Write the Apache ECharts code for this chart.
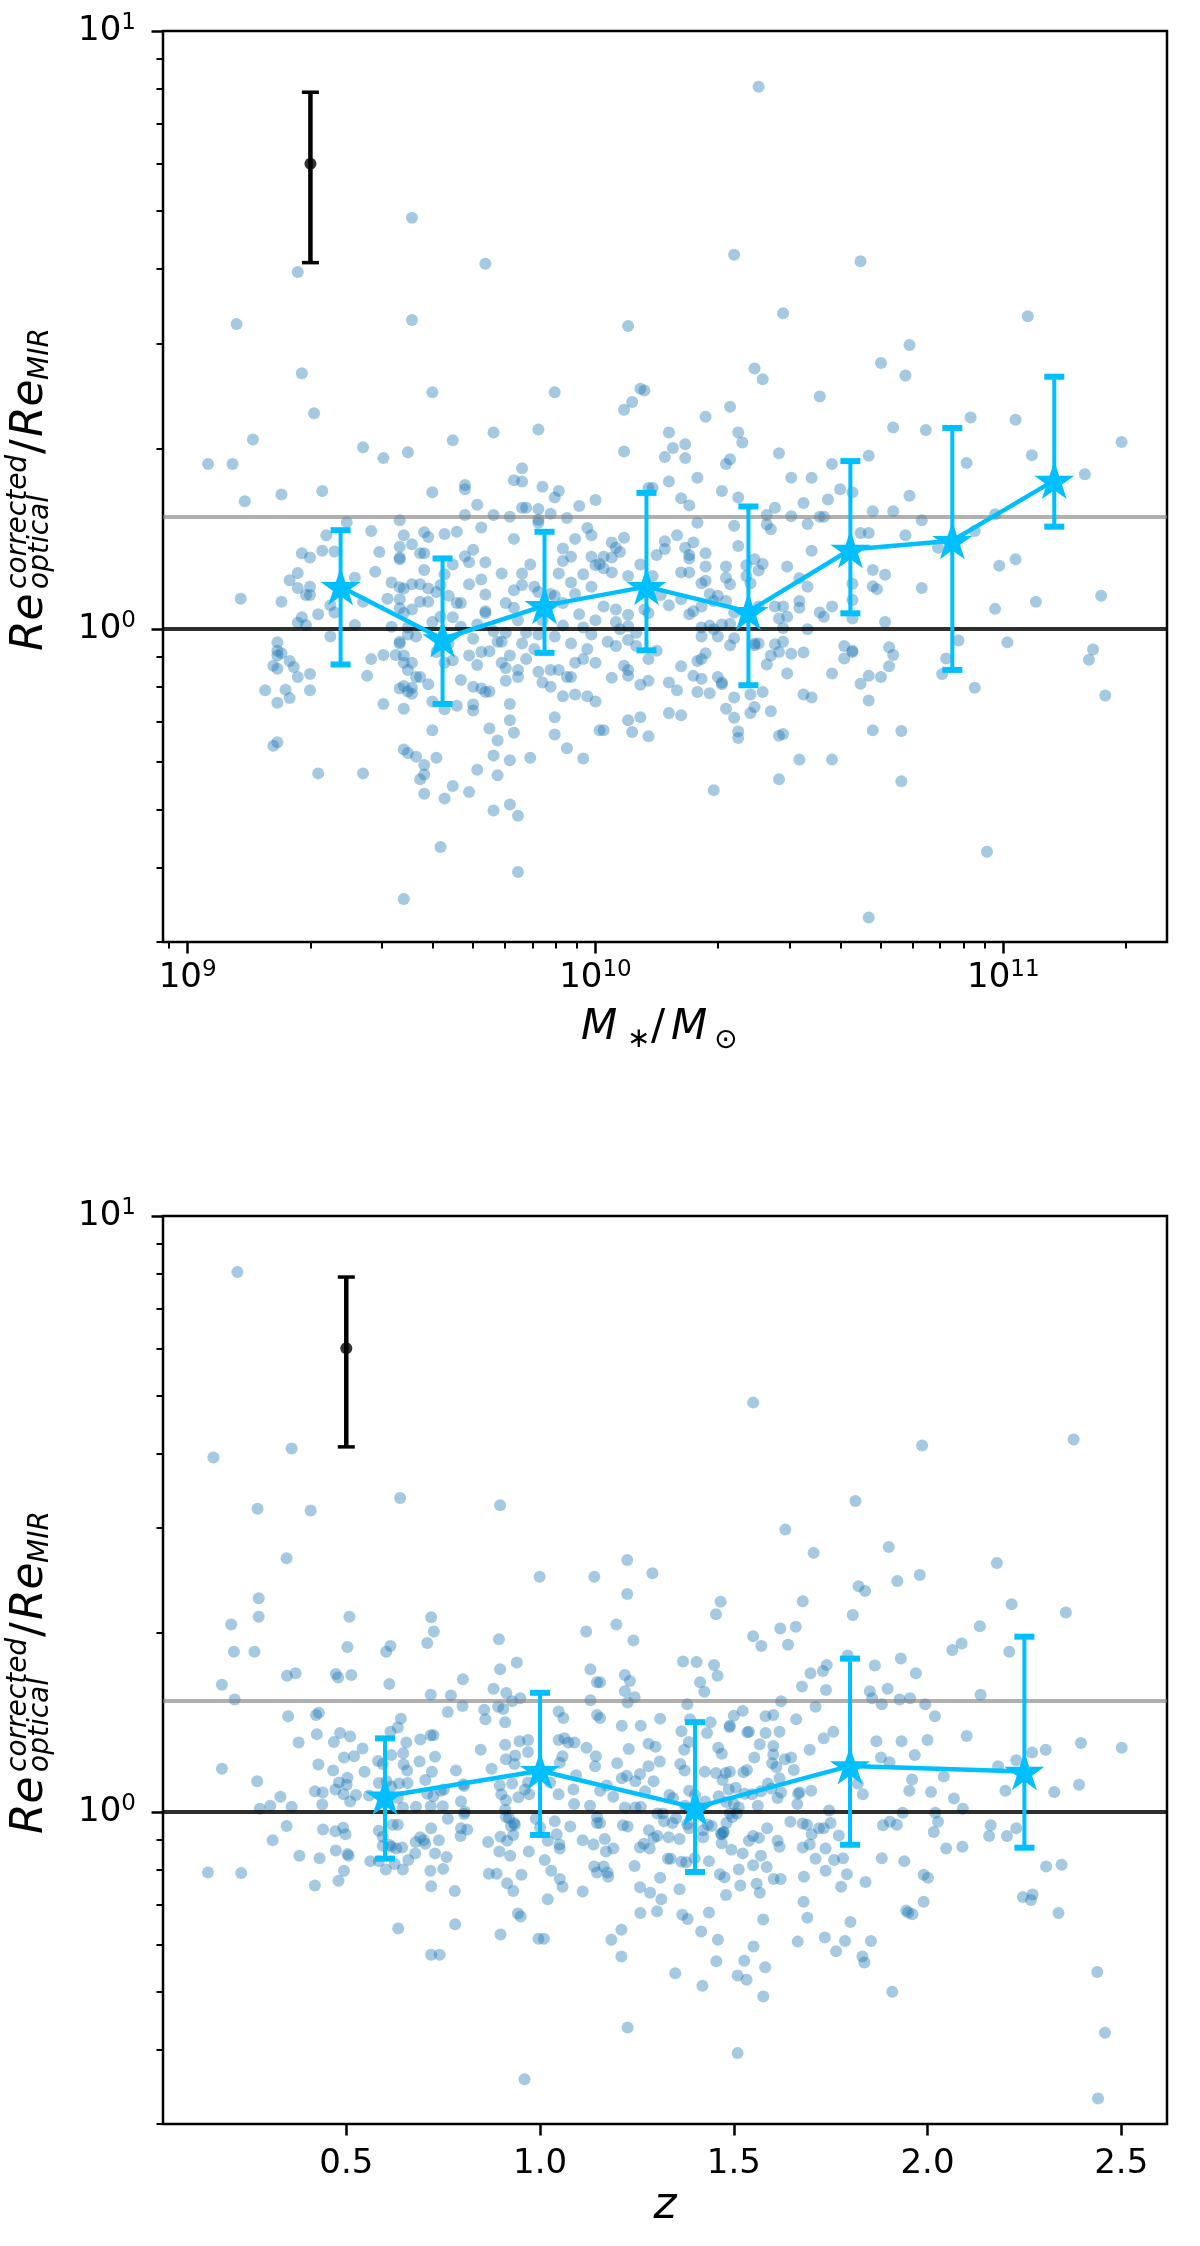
<!DOCTYPE html>
<html>
<head>
<meta charset="utf-8">
<script src="https://cdn.jsdelivr.net/npm/echarts@6/dist/echarts.min.js"></script>
<style>
  html, body { margin: 0; padding: 0; background: #fff; }
  #chart { width: 1200px; height: 2246px; }
</style>
</head>
<body>
<div id="chart"></div>
<script>
// ---- binned medians (stars) with 1-sigma bars, upper panel: stellar mass ----
var massBinLog = [9.375, 9.625, 9.875, 10.125, 10.375, 10.625, 10.875, 11.125];
var massMedian = [1.178, 0.963, 1.095, 1.178, 1.070, 1.359, 1.406, 1.773];
var massUpper  = [1.464, 1.313, 1.455, 1.690, 1.604, 1.910, 2.170, 2.643];
var massLower  = [0.873, 0.750, 0.913, 0.922, 0.806, 1.063, 0.855, 1.484];

// ---- lower panel: redshift ----
var zBins   = [0.6, 1.0, 1.4, 1.8, 2.25];
var zMedian = [1.064, 1.174, 1.018, 1.196, 1.170];
var zUpper  = [1.330, 1.586, 1.416, 1.810, 1.970];
var zLower  = [0.836, 0.916, 0.794, 0.882, 0.872];

// typical error bar drawn in the corner
var refMass = 2e9, refZ = 0.5, refValue = 6.0, refErr = 1.9;
var unityLevel = 1.0, greyLevel = 1.54;

// axis ranges and ticks
var massRange = [8.7e8, 2.52e11];
var ratioRange = [0.3, 10];
var zRange = [0.027, 2.618];
var massMajor = [1e9, 1e10, 1e11];
var massMinor = [9e8, 2e9, 3e9, 4e9, 5e9, 6e9, 7e9, 8e9, 9e9, 2e10, 3e10, 4e10, 5e10, 6e10, 7e10, 8e10, 9e10, 2e11];
var ratioMajor = [1, 10];
var ratioMinor = [0.3, 0.4, 0.5, 0.6, 0.7, 0.8, 0.9, 2, 3, 4, 5, 6, 7, 8, 9];
var zTicks = [0.5, 1.0, 1.5, 2.0, 2.5];

// galaxies, upper panel: [log10(M*/Msun), log10(Re ratio)]
var massPanelPoints = [
[9.55,0.688],[9.27,0.597],[9.73,0.611],[9.12,0.510],[9.55,0.517],[9.28,0.428],[9.60,0.396],[9.90,0.396],[9.31,0.361],[9.16,0.317],[9.43,0.304],[9.65,0.316],[9.75,0.329],[9.86,0.334],
[10.40,0.907],[10.34,0.626],[10.65,0.615],[10.46,0.528],[11.06,0.523],[10.08,0.507],[10.77,0.475],[10.70,0.445],[10.76,0.424],[10.39,0.436],[10.41,0.418],[10.11,0.402],[10.12,0.399],[10.09,0.380],[10.07,0.367],[10.55,0.389],[10.33,0.372],[10.27,0.355],[10.18,0.329],[10.35,0.329],[10.36,0.312],[10.22,0.309],[10.19,0.303],[10.07,0.297],[10.73,0.337],[10.81,0.333],[10.92,0.354],[11.03,0.350],[11.29,0.313],
[9.05,0.276],[9.11,0.276],[9.48,0.286],[9.54,0.296],[9.23,0.225],[9.33,0.231],[9.14,0.214],[9.60,0.229],[9.82,0.269],[9.80,0.249],[9.82,0.247],[9.68,0.234],[9.68,0.241],[9.87,0.238],[9.91,0.231],[9.90,0.220],[9.71,0.208],[9.83,0.203],[9.82,0.203],[9.86,0.201],[9.89,0.193],[9.96,0.206],[10.00,0.216],[9.68,0.191],[9.75,0.191],[9.79,0.188],[9.86,0.183],[9.93,0.186],[9.52,0.182],
[9.39,0.179],[9.34,0.157],[9.45,0.164],[9.53,0.157],[9.55,0.142],[9.58,0.162],[9.59,0.154],[9.63,0.159],[9.66,0.163],[9.72,0.170],[9.86,0.178],[9.95,0.151],[9.99,0.157],[9.98,0.169],[9.80,0.151],[9.28,0.127],[9.30,0.120],[9.33,0.131],[9.36,0.130],[9.47,0.129],[9.52,0.138],[9.52,0.120],[9.52,0.117],[9.57,0.127],[9.58,0.127],[9.68,0.122],[9.70,0.133],[9.69,0.112],[9.73,0.112],[9.92,0.135],[9.94,0.121],[9.92,0.114],[9.99,0.121],
[9.25,0.082],[9.27,0.094],[9.27,0.069],[9.30,0.071],[9.29,0.057],[9.30,0.057],[9.35,0.040],[9.36,0.028],[9.41,0.086],[9.43,0.046],[9.46,0.096],[9.49,0.051],[9.50,0.078],[9.52,0.070],[9.53,0.068],[9.52,0.050],[9.52,0.035],[9.55,0.075],[9.55,0.033],[9.57,0.075],[9.58,0.099],[9.59,0.068],[9.61,0.062],[9.62,0.074],[9.63,0.092],[9.64,0.056],[9.65,0.108],[9.66,0.044],[9.67,0.044],[9.69,0.075],[9.72,0.083],[9.73,0.058],[9.73,0.027],[9.77,0.093],[9.80,0.065],[9.82,0.093],[9.82,0.074],[9.84,0.108],[9.85,0.071],[9.86,0.062],[9.89,0.059],[9.90,0.056],[9.91,0.093],[9.92,0.044],[9.94,0.078],[9.95,0.059],[9.97,0.092],[9.99,0.071],[10.00,0.107],
[9.13,0.051],[9.23,0.046],[9.27,0.011],[9.28,0.020],[9.29,0.007],[9.32,0.025],[9.35,-0.012],[9.41,0.007],
[9.50,0.004],[9.53,0.027],[9.54,0.003],[9.56,-0.012],[9.57,0.046],[9.59,0.046],[9.60,0.012],[9.62,0.021],[9.64,-0.024],[9.65,0.020],[9.67,0.004],[9.70,-0.016],[9.71,0.008],[9.73,0.030],[9.75,-0.003],[9.77,-0.021],[9.78,0.044],[9.78,-0.006],[9.80,0.036],[9.81,0.015],[9.82,-0.024],[9.83,-0.006],[9.86,-0.009],[9.87,0.015],[9.90,-0.012],[9.92,0.006],[9.94,-0.024],[9.96,0.025],[9.97,0.003],[9.99,-0.009],[10.00,0.015],[9.52,-0.024],[9.54,-0.009],
[9.22,-0.022],[9.22,-0.036],[9.22,-0.044],[9.23,-0.040],[9.25,-0.053],[9.26,-0.063],[9.27,-0.080],[9.21,-0.061],[9.22,-0.066],[9.30,-0.075],[9.44,-0.078],[9.45,-0.050],[9.48,-0.043],[9.51,-0.043],[9.52,-0.021],[9.53,-0.044],[9.53,-0.056],[9.54,-0.068],[9.55,-0.056],[9.56,-0.080],[9.57,-0.080],[9.59,-0.092],[9.61,-0.038],[9.63,-0.056],[9.65,-0.052],[9.67,-0.085],[9.69,-0.044],[9.71,-0.060],[9.72,-0.038],[9.74,-0.037],[9.76,-0.021],[9.77,-0.056],[9.78,-0.065],[9.78,-0.086],[9.79,-0.044],[9.81,-0.068],[9.81,-0.080],[9.83,-0.050],[9.85,-0.033],[9.86,-0.071],[9.87,-0.089],[9.89,-0.068],[9.91,-0.068],[9.93,-0.080],[9.95,-0.056],[9.97,-0.050],[9.98,-0.033],[10.00,-0.056],[9.53,-0.095],[9.54,-0.104],[9.55,-0.098],[9.55,-0.108],[9.52,-0.099],[9.70,-0.096],[9.72,-0.099],[9.73,-0.105],[9.74,-0.104],[9.89,-0.096],[9.92,-0.112],[9.94,-0.080],[9.95,-0.109],[9.98,-0.112],
[9.19,-0.102],[9.24,-0.101],[9.25,-0.115],[9.30,-0.102],[9.22,-0.123],[9.48,-0.125],[9.53,-0.133],[9.60,-0.121],[9.63,-0.134],[9.66,-0.128],[9.70,-0.126],[9.70,-0.136],[9.79,-0.125],[10.00,-0.121],
[9.60,-0.169],[9.74,-0.166],[9.76,-0.186],[9.79,-0.152],[9.80,-0.173],[9.90,-0.176],[9.90,-0.147],[9.93,-0.199],[9.97,-0.216],[10.01,-0.169],[9.21,-0.195],[9.22,-0.189],[9.53,-0.201],[9.54,-0.207],[9.56,-0.213],[9.58,-0.227],[9.58,-0.243],[9.57,-0.251],[9.61,-0.215],[9.71,-0.235],[9.75,-0.211],[9.76,-0.244],[9.79,-0.219],[9.84,-0.215],[9.32,-0.241],[9.43,-0.241],[9.58,-0.275],[9.63,-0.283],[9.65,-0.262],[9.69,-0.272],[9.75,-0.303],[9.79,-0.293],[9.81,-0.312],[9.62,-0.364],[9.81,-0.406],[9.53,-0.451],
[10.17,0.288],[10.22,0.286],[10.32,0.276],[10.33,0.284],[10.45,0.294],[10.58,0.276],[10.67,0.290],[10.91,0.278],[11.07,0.291],[11.20,0.259],[10.18,0.247],[10.25,0.253],[10.48,0.253],[10.53,0.253],[10.31,0.231],[10.21,0.219],[10.23,0.207],[10.35,0.220],[10.14,0.236],[10.13,0.236],[10.60,0.234],[10.63,0.229],[10.57,0.217],[10.51,0.211],[10.68,0.197],[10.73,0.197],[10.77,0.223],[10.80,0.182],[10.42,0.191],[10.48,0.189],[10.55,0.188],[10.56,0.188],[10.44,0.203],[10.25,0.178],[10.34,0.173],[10.42,0.175],[10.43,0.167],[10.52,0.176],[10.98,0.192],[10.93,0.164],
[10.07,0.153],[10.04,0.145],[10.05,0.136],[10.06,0.129],[10.02,0.121],[10.04,0.120],[10.01,0.109],[10.02,0.102],[10.04,0.095],[10.08,0.089],[10.11,0.108],[10.14,0.089],[10.16,0.057],[10.18,0.040],[10.15,0.124],[10.17,0.134],[10.17,0.147],[10.20,0.157],[10.22,0.136],[10.23,0.124],[10.23,0.118],[10.24,0.145],[10.27,0.127],[10.27,0.105],[10.26,0.077],[10.27,0.081],[10.21,0.095],[10.23,0.095],[10.32,0.105],[10.32,0.086],[10.33,0.075],[10.35,0.139],[10.37,0.107],[10.37,0.089],[10.38,0.077],[10.39,0.117],[10.40,0.098],[10.41,0.109],[10.47,0.105],[10.50,0.085],[10.52,0.071],[10.53,0.131],[10.63,0.076],[10.65,0.161],[10.67,0.161],[10.68,0.099],[10.71,0.091],[10.68,0.072],[10.69,0.067],[10.76,0.157],[10.80,0.069],[10.84,0.136],[10.99,0.106],[11.03,0.117],[11.24,0.056],[11.08,0.046],[10.98,0.034],
[10.02,0.038],[10.05,0.033],[10.08,0.024],[10.05,0.012],[10.06,0.000],[10.08,0.005],[10.10,-0.006],[10.12,0.033],[10.13,0.027],[10.03,-0.021],[10.05,-0.028],[10.08,-0.018],[10.10,-0.028],[10.21,0.050],[10.23,0.025],[10.24,0.030],[10.26,0.038],[10.28,0.059],[10.30,0.056],[10.29,0.047],[10.32,0.047],[10.34,0.028],[10.26,0.003],[10.28,0.006],[10.29,0.000],[10.31,0.008],[10.33,0.009],[10.30,-0.012],[10.33,-0.027],[10.34,-0.015],[10.26,-0.012],[10.40,0.038],[10.44,0.038],[10.46,0.038],[10.45,0.018],[10.47,0.021],[10.46,0.002],[10.50,0.036],[10.50,0.047],[10.52,0.000],[10.55,0.028],[10.56,0.021],[10.58,0.038],[10.63,0.049],[10.63,0.018],[10.71,0.012],[11.01,-0.022],[10.89,-0.019],[11.22,-0.034],[11.21,-0.051],
[10.07,-0.061],[10.08,-0.068],[10.08,-0.078],[10.04,-0.081],[10.11,-0.093],[10.13,-0.086],[10.13,-0.050],[10.15,-0.036],[10.21,-0.062],[10.18,-0.089],[10.20,-0.102],[10.24,-0.078],[10.25,-0.105],[10.25,-0.053],[10.26,-0.050],[10.27,-0.040],[10.26,-0.083],[10.28,-0.107],[10.30,-0.080],[10.31,-0.089],[10.31,-0.092],[10.34,-0.114],[10.39,-0.024],[10.39,-0.027],[10.40,-0.024],[10.42,-0.059],[10.43,-0.044],[10.44,-0.025],[10.46,-0.021],[10.45,-0.038],[10.48,-0.041],[10.51,-0.039],[10.41,-0.105],[10.38,-0.109],[10.47,-0.074],[10.58,-0.074],[10.61,-0.028],[10.61,-0.049],[10.63,-0.038],[10.63,-0.036],[10.65,-0.091],[10.67,-0.078],[10.70,-0.080],[10.72,-0.062],[10.72,-0.030],[10.73,-0.043],[10.85,-0.075],[10.86,-0.049],[10.93,-0.098],[10.67,-0.119],[11.25,-0.111],[10.51,-0.109],[10.53,-0.114],
[10.02,-0.169],[10.09,-0.172],[10.08,-0.152],[10.11,-0.147],[10.13,-0.179],[10.18,-0.140],[10.21,-0.144],[10.32,-0.133],[10.34,-0.148],[10.35,-0.171],[10.35,-0.182],[10.38,-0.140],[10.39,-0.130],[10.43,-0.137],[10.45,-0.178],[10.46,-0.175],[10.50,-0.218],[10.58,-0.218],[10.68,-0.169],[10.75,-0.170],[10.45,-0.251],[10.75,-0.254],[10.29,-0.269],[10.96,-0.372],[10.67,-0.482]
];

// galaxies, lower panel: [z, log10(Re ratio)]
var zPanelPoints = [
[0.219,0.906],[0.157,0.595],[0.359,0.610],[0.639,0.527],[0.897,0.515],[0.271,0.509],[0.408,0.506],[0.346,0.426],[0.999,0.395],[1.140,0.395],[0.274,0.359],[0.274,0.328],[0.203,0.315],[0.508,0.328],[0.719,0.327],[0.726,0.303],[1.119,0.303],[0.210,0.269],[0.263,0.269],[0.503,0.277],[0.614,0.279],[0.603,0.269],[0.709,0.284],[0.894,0.290],
[1.550,0.687],[1.986,0.615],[2.377,0.625],[1.814,0.522],[1.633,0.474],[1.706,0.435],[1.900,0.445],[1.225,0.423],[1.290,0.401],[2.179,0.418],[1.225,0.366],[1.822,0.379],[1.839,0.371],[1.922,0.388],[1.980,0.398],[1.466,0.353],[1.454,0.332],[1.678,0.354],[1.807,0.331],[2.217,0.349],[2.357,0.335],[2.135,0.312],[1.197,0.315],[1.241,0.288],[1.550,0.295],[1.571,0.279],[1.620,0.308],[1.660,0.311],[1.640,0.281],[2.064,0.272],[2.088,0.283],[2.211,0.269],[1.794,0.263],
[0.179,0.214],[0.212,0.189],[0.347,0.229],[0.369,0.233],[0.473,0.232],[0.479,0.226],[0.513,0.230],[0.611,0.215],[0.801,0.223],[0.718,0.197],[0.770,0.196],[0.880,0.207],[0.913,0.200],[0.897,0.240],[0.940,0.251],[0.928,0.186],[0.949,0.191],[0.762,0.168],[0.800,0.178],[0.856,0.172],[0.859,0.156],[0.892,0.177],[0.905,0.173],[0.910,0.151],[1.048,0.169],[1.060,0.158],[1.130,0.240],[1.147,0.218],[1.130,0.188],[1.147,0.163],[0.350,0.161],[0.422,0.163],[0.429,0.167],[0.641,0.157],[0.633,0.142],
[0.377,0.117],[0.424,0.131],[0.468,0.118],[0.484,0.133],[0.510,0.127],[0.542,0.107],[0.520,0.094],[0.494,0.092],[0.582,0.086],[0.616,0.096],[0.647,0.099],[0.655,0.117],[0.691,0.122],[0.725,0.129],[0.718,0.129],[0.729,0.093],[0.689,0.085],[0.648,0.080],[0.657,0.070],[0.594,0.081],[0.614,0.135],[0.428,0.080],[0.466,0.070],[0.503,0.058],[0.179,0.073],[0.270,0.052],[0.783,0.070],[0.847,0.105],[0.875,0.073],[0.910,0.113],[0.912,0.089],[0.936,0.095],[0.947,0.119],[0.969,0.121],[0.969,0.101],[1.048,0.121],[1.063,0.124],[1.073,0.117],[1.089,0.117],[1.058,0.094],[1.051,0.083],[1.093,0.062],[1.120,0.108],[1.144,0.094],[1.142,0.077],
[0.330,0.026],[0.304,0.011],[0.277,0.006],[0.359,0.009],[0.419,0.035],[0.439,0.033],[0.438,0.013],[0.472,0.038],[0.481,0.050],[0.501,0.046],[0.493,0.030],[0.510,0.018],[0.525,0.029],[0.547,0.068],[0.559,0.028],[0.584,0.049],[0.604,0.052],[0.616,0.043],[0.636,0.048],[0.633,0.024],[0.646,0.008],[0.658,0.049],[0.680,0.009],[0.704,0.054],[0.709,0.031],[0.725,0.027],[0.718,0.010],[0.744,0.036],[0.752,0.038],[0.721,0.068],[0.749,0.010],[0.796,0.018],[0.802,0.047],[0.804,0.044],[0.806,0.001],[0.896,0.045],[0.900,0.030],[0.912,0.020],[0.928,0.048],[0.944,0.025],[0.972,0.030],[0.961,0.038],[0.969,0.050],[0.934,0.081],[1.026,0.050],[1.048,0.030],[1.086,0.038],[1.088,0.014],[1.129,0.011],[1.147,-0.008],[0.910,0.004],[0.920,-0.010],[0.935,-0.021],
[0.346,-0.023],[0.310,-0.047],[0.379,-0.073],[0.440,-0.029],[0.431,-0.077],[0.472,-0.032],[0.473,-0.064],[0.492,-0.026],[0.498,-0.037],[0.503,-0.070],[0.506,-0.073],[0.584,-0.031],[0.594,-0.041],[0.620,-0.021],[0.633,-0.021],[0.594,-0.056],[0.612,-0.055],[0.616,-0.058],[0.629,-0.061],[0.644,-0.059],[0.679,-0.050],[0.691,-0.042],[0.700,-0.047],[0.704,-0.053],[0.719,-0.027],[0.739,-0.047],[0.759,-0.075],[0.729,-0.069],[0.678,-0.069],[0.762,-0.011],[0.796,-0.027],[0.812,-0.029],[0.795,-0.040],[0.804,-0.003],[0.866,-0.050],[0.898,-0.041],[0.895,-0.066],[0.912,-0.008],[0.915,-0.048],[0.925,-0.023],[0.931,-0.038],[0.923,-0.073],[0.933,-0.018],[0.971,-0.066],[0.989,-0.011],[1.000,-0.025],[1.020,-0.048],[1.038,-0.015],[1.043,-0.037],[1.050,-0.054],[1.051,-0.061],[1.078,-0.024],[1.110,-0.047],[1.138,-0.054],[1.147,-0.018],[1.140,-0.091],[1.147,-0.101],[0.562,-0.082],[0.584,-0.082],[0.602,-0.096],[0.625,-0.087],[0.646,-0.096],[0.660,-0.080],[0.717,-0.098],[0.750,-0.095],[0.780,-0.132],[0.868,-0.103],[0.888,-0.103],[0.915,-0.119],[0.931,-0.132],[0.952,-0.105],[1.012,-0.080],[1.029,-0.098],[1.051,-0.112],[1.058,-0.125],[1.110,-0.133],[0.143,-0.101],[0.229,-0.102],[0.419,-0.123],[0.480,-0.115],[0.494,-0.098],
[0.719,-0.124],[1.020,-0.146],[0.943,-0.170],[0.950,-0.175],[0.781,-0.188],[0.898,-0.205],[0.996,-0.212],[1.010,-0.212],[0.634,-0.195],[0.719,-0.239],[0.741,-0.239],[0.960,-0.448],
[1.369,0.253],[1.404,0.252],[1.449,0.247],[1.458,0.229],[1.413,0.218],[1.424,0.202],[1.219,0.230],[1.232,0.220],[1.155,0.218],[1.219,0.203],[1.244,0.193],[1.226,0.184],[1.380,0.181],[1.698,0.233],[1.730,0.237],[1.740,0.247],[1.676,0.211],[1.738,0.205],[1.711,0.177],[1.864,0.246],[1.931,0.258],[1.970,0.233],[1.851,0.203],[1.857,0.191],[1.897,0.207],[1.882,0.181],[1.928,0.189],[1.955,0.191],[1.994,0.181],[2.019,0.161],[2.137,0.197],[1.622,0.186],[1.582,0.161],[1.602,0.163],[1.661,0.156],[1.155,0.158],[1.211,0.145],[1.260,0.145],[1.310,0.157],[1.490,0.145],[1.500,0.162],[1.523,0.170],
[1.365,0.136],[1.431,0.133],[1.460,0.108],[1.440,0.151],[1.387,0.156],[1.372,0.105],[1.384,0.118],[1.469,0.098],[1.489,0.143],[1.535,0.134],[1.539,0.135],[1.582,0.133],[1.618,0.135],[1.696,0.105],[1.732,0.124],[1.757,0.135],[1.868,0.119],[1.933,0.119],[2.000,0.121],[2.101,0.128],[2.396,0.116],[2.501,0.108],[2.270,0.100],[2.305,0.105],[1.967,0.096],[1.880,0.092],[1.902,0.084],[1.632,0.089],[1.648,0.092],[1.602,0.097],[1.553,0.092],[1.567,0.114],[1.602,0.111],[1.599,0.082],[1.610,0.076],[1.655,0.071],[1.298,0.110],[1.280,0.115],[1.229,0.106],[1.199,0.082],[1.224,0.061],[1.258,0.064],[1.280,0.077],[1.309,0.085],[1.362,0.081],[1.425,0.068],[1.454,0.066],[1.479,0.066],[1.490,0.068],[1.525,0.067],[1.534,0.071],[1.373,0.070],[2.042,0.060],[1.960,0.055],[2.182,0.077],[2.229,0.087],
[1.155,0.036],[1.172,0.045],[1.189,0.026],[1.211,0.057],[1.219,0.008],[1.246,0.052],[1.246,0.008],[1.260,0.009],[1.271,0.035],[1.293,0.052],[1.334,0.029],[1.343,0.024],[1.374,0.011],[1.385,0.036],[1.400,0.029],[1.426,0.018],[1.461,0.027],[1.471,0.054],[1.487,0.038],[1.505,0.041],[1.481,0.017],[1.500,0.014],[1.513,0.008],[1.528,0.031],[1.547,0.030],[1.562,0.011],[1.570,0.035],[1.588,0.048],[1.597,0.040],[1.613,0.024],[1.622,0.033],[1.618,0.057],[1.666,0.031],[1.670,0.033],[1.700,0.036],[1.664,0.014],[1.746,0.003],[1.820,0.048],[1.833,0.030],[1.953,0.036],[2.009,0.034],[2.068,0.023],[2.091,0.006],[2.201,0.036],[2.327,0.034],[2.391,0.046],[2.229,-0.027],[2.205,-0.040],[2.159,-0.040],[2.163,-0.022],[1.936,-0.001],[2.020,-0.001],[2.027,-0.016],[1.303,-0.002],[1.317,-0.002],[1.351,-0.010],[1.320,-0.015],[1.342,-0.018],[1.443,-0.023],[1.467,-0.036],[1.473,-0.034],[1.421,-0.030],[1.380,-0.020],[1.481,-0.018],[1.490,-0.002],[1.496,-0.008],[1.508,-0.002],
[1.155,-0.018],[1.167,-0.045],[1.189,-0.061],[1.214,-0.022],[1.226,-0.024],[1.170,-0.066],[1.164,-0.091],[1.174,-0.101],[1.258,-0.059],[1.268,-0.053],[1.281,-0.030],[1.283,-0.061],[1.293,-0.043],[1.303,-0.040],[1.332,-0.042],[1.360,-0.045],[1.385,-0.027],[1.421,-0.042],[1.433,-0.021],[1.469,-0.037],[1.474,-0.033],[1.494,-0.063],[1.469,-0.052],[1.523,-0.069],[1.539,-0.048],[1.550,-0.040],[1.565,-0.043],[1.586,-0.027],[1.613,-0.048],[1.618,-0.058],[1.646,-0.016],[1.678,-0.019],[1.689,-0.021],[1.701,-0.037],[1.720,-0.027],[1.732,-0.027],[1.750,-0.018],[1.771,-0.039],[1.678,-0.059],[1.696,-0.054],[1.737,-0.061],[1.759,-0.080],[1.782,-0.077],[1.711,-0.078],[1.681,-0.108],[1.737,-0.098],[1.792,-0.104],[1.882,-0.077],[1.885,-0.022],[1.903,-0.016],[1.921,-0.021],[1.940,-0.082],[2.016,-0.033],[2.048,-0.061],[2.090,-0.058],[1.330,-0.078],[1.337,-0.078],[1.365,-0.083],[1.377,-0.084],[1.399,-0.077],[1.436,-0.082],[1.464,-0.104],[1.476,-0.109],[1.513,-0.096],[1.550,-0.089],[1.570,-0.073],[1.585,-0.092],[1.603,-0.112],[1.621,-0.112],
[1.176,-0.108],[1.244,-0.090],[1.310,-0.110],[1.258,-0.126],[1.284,-0.135],[1.313,-0.146],[1.360,-0.129],[1.259,-0.169],[1.302,-0.166],[1.367,-0.172],[1.381,-0.179],[1.436,-0.168],[1.416,-0.200],[1.210,-0.197],[1.184,-0.214],[1.210,-0.242],[1.459,-0.214],[1.455,-0.250],[1.480,-0.139],[1.517,-0.123],[1.559,-0.120],[1.567,-0.135],[1.576,-0.180],[1.527,-0.249],[1.510,-0.274],[1.533,-0.281],[1.581,-0.260],[1.576,-0.309],[1.551,-0.225],[1.349,-0.270],[1.419,-0.291],[1.665,-0.217],[1.690,-0.177],[1.680,-0.150],[1.735,-0.210],[1.764,-0.233],[1.787,-0.216],[1.777,-0.125],[1.801,-0.184],[1.840,-0.117],[1.832,-0.242],[1.837,-0.252],[1.854,-0.216],[1.909,-0.301],[1.990,-0.105],[2.001,-0.110],[1.990,-0.150],[1.945,-0.165],[1.950,-0.168],[1.961,-0.171],[2.306,-0.091],[2.346,-0.088],[2.246,-0.142],[2.271,-0.138],[2.267,-0.147],[2.338,-0.169],[2.438,-0.268],[2.458,-0.370],[2.440,-0.480],[1.226,-0.361],[1.510,-0.404]
];

// ------------------------------------------------------------------
var FONT = 'DejaVu Sans';
var BLUE = '#00bfff';
var DOT = 'rgba(31,119,180,0.5)';
var STAR = 'path://M0,-1L0.2245,-0.309L0.9511,-0.309L0.3633,0.118L0.5878,0.809L0,0.382L-0.5878,0.809L-0.3633,0.118L-0.9511,-0.309L-0.2245,-0.309Z';

function pow10(v) { return Math.pow(10, v); }

var massScatter = massPanelPoints.map(function (p) { return [pow10(p[0]), pow10(p[1])]; });
var zScatter = zPanelPoints.map(function (p) { return [p[0], pow10(p[1])]; });
var massStars = massBinLog.map(function (m, i) { return [pow10(m), massMedian[i]]; });
var massBars = massBinLog.map(function (m, i) { return [pow10(m), massLower[i], massUpper[i]]; });
var zStars = zBins.map(function (z, i) { return [z, zMedian[i]]; });
var zBars = zBins.map(function (z, i) { return [z, zLower[i], zUpper[i]]; });

var tickRich = {
  b: { fontFamily: FONT, fontSize: 34, color: '#000' },
  s: { fontFamily: FONT, fontSize: 23, color: '#000', padding: [0, 0, 16, 0] }
};
function powLabel(v) { return '{b|10}{s|' + Math.round(Math.log10(v)) + '}'; }

function axisBase(extra) {
  var a = {
    axisLine: { show: false },
    splitLine: { show: false },
    axisTick: { show: false },
    axisLabel: { show: false }
  };
  for (var k in extra) a[k] = extra[k];
  return a;
}
function ticks(values, len, width) {
  return { show: true, customValues: values, length: len, lineStyle: { color: '#000', width: width } };
}

// error bar renderer (vertical line + caps), positions come from api.coord
function errorBars(color, lineW, capHalf, capW) {
  return function (params, api) {
    var x = api.value(0);
    var lo = api.coord([x, api.value(1)]);
    var hi = api.coord([x, api.value(2)]);
    return {
      type: 'group',
      children: [
        { type: 'line', shape: { x1: hi[0], y1: hi[1], x2: lo[0], y2: lo[1] }, style: { stroke: color, lineWidth: lineW } },
        { type: 'line', shape: { x1: hi[0] - capHalf, y1: hi[1], x2: hi[0] + capHalf, y2: hi[1] }, style: { stroke: color, lineWidth: capW } },
        { type: 'line', shape: { x1: lo[0] - capHalf, y1: lo[1], x2: lo[0] + capHalf, y2: lo[1] }, style: { stroke: color, lineWidth: capW } }
      ]
    };
  };
}

function refLines() {
  return {
    silent: true, symbol: 'none', label: { show: false },
    data: [
      { yAxis: greyLevel, lineStyle: { color: 'rgba(128,128,128,0.62)', width: 4, type: 'solid' } },
      { yAxis: unityLevel, lineStyle: { color: 'rgba(0,0,0,0.82)', width: 4, type: 'solid' } }
    ]
  };
}

function txt(t, x, y, size, italic, align) {
  return {
    type: 'text', x: x, y: y, silent: true,
    style: {
      text: t, fontFamily: FONT, fontSize: size, fontStyle: italic ? 'italic' : 'normal',
      fill: '#000', textAlign: align || 'left', align: align || 'left',
      textVerticalAlign: 'middle', verticalAlign: 'middle'
    }
  };
}
// rotated y-axis title: Re^corrected_optical / Re_MIR
function yTitle(x0, y0) {
  return {
    type: 'group', x: x0, y: y0, rotation: Math.PI / 2,
    children: [
      txt('Re', 0, -15, 44, true),
      txt('corrected', 62, -27, 28, true),
      txt('optical', 62, -5, 28, true),
      txt('/', 197, -15, 44, false),
      txt('Re', 214, -15, 44, true),
      txt('MIR', 271, -5, 28, true)
    ]
  };
}

var chart = echarts.init(document.getElementById('chart'), null, { renderer: 'canvas' });

var option = {
  animation: false,
  backgroundColor: '#fff',
  textStyle: { fontFamily: FONT },
  grid: [
    { left: 163, top: 31, width: 1004, height: 911, show: true, borderColor: '#000', borderWidth: 2.5, backgroundColor: 'transparent' },
    { left: 163, top: 1216, width: 1004, height: 908, show: true, borderColor: '#000', borderWidth: 2.5, backgroundColor: 'transparent' }
  ],
  xAxis: [
    axisBase({ type: 'log', logBase: 10, gridIndex: 0, position: 'bottom', min: massRange[0], max: massRange[1],
      axisTick: ticks(massMajor, 11.5, 2.5),
      axisLabel: { show: true, customValues: massMajor, formatter: powLabel, rich: tickRich, margin: 17 } }),
    axisBase({ type: 'log', logBase: 10, gridIndex: 0, position: 'bottom', min: massRange[0], max: massRange[1],
      axisTick: ticks(massMinor, 6.5, 2) }),
    axisBase({ type: 'value', gridIndex: 1, position: 'bottom', min: zRange[0], max: zRange[1],
      axisTick: ticks(zTicks, 11.5, 2.5),
      axisLabel: { show: true, customValues: zTicks, margin: 23, fontSize: 34, color: '#000', fontFamily: FONT,
        formatter: function (v) { return v.toFixed(1); } } })
  ],
  yAxis: [
    axisBase({ type: 'log', logBase: 10, gridIndex: 0, position: 'left', min: ratioRange[0], max: ratioRange[1],
      axisTick: ticks(ratioMajor, 11.5, 2.5),
      axisLabel: { show: true, customValues: ratioMajor, formatter: powLabel, rich: tickRich, margin: 27 } }),
    axisBase({ type: 'log', logBase: 10, gridIndex: 0, position: 'left', min: ratioRange[0], max: ratioRange[1],
      axisTick: ticks(ratioMinor, 6.5, 2) }),
    axisBase({ type: 'log', logBase: 10, gridIndex: 1, position: 'left', min: ratioRange[0], max: ratioRange[1],
      axisTick: ticks(ratioMajor, 11.5, 2.5),
      axisLabel: { show: true, customValues: ratioMajor, formatter: powLabel, rich: tickRich, margin: 27 } }),
    axisBase({ type: 'log', logBase: 10, gridIndex: 1, position: 'left', min: ratioRange[0], max: ratioRange[1],
      axisTick: ticks(ratioMinor, 6.5, 2) })
  ],
  series: [
    // upper panel
    { type: 'scatter', xAxisIndex: 0, yAxisIndex: 0, data: massScatter, symbolSize: 12, progressive: 0,
      itemStyle: { color: DOT }, silent: true, z: 2, markLine: refLines() },
    { type: 'custom', xAxisIndex: 0, yAxisIndex: 0, data: massBars, encode: { x: 0, y: [1, 2] },
      renderItem: errorBars(BLUE, 4, 10, 6), silent: true, z: 8 },
    { type: 'line', xAxisIndex: 0, yAxisIndex: 0, data: massStars, symbol: STAR, symbolSize: [34, 32],
      lineStyle: { color: BLUE, width: 4.5 }, itemStyle: { color: BLUE, borderColor: BLUE, borderWidth: 2 },
      silent: true, z: 9 },
    { type: 'custom', xAxisIndex: 0, yAxisIndex: 0, data: [[refMass, refValue - refErr, refValue + refErr]],
      encode: { x: 0, y: [1, 2] }, renderItem: errorBars('#000', 4.5, 8.5, 3.5), silent: true, z: 8 },
    { type: 'scatter', xAxisIndex: 0, yAxisIndex: 0, data: [[refMass, refValue]], symbolSize: 12,
      itemStyle: { color: '#000' }, silent: true, z: 9 },
    // lower panel
    { type: 'scatter', xAxisIndex: 2, yAxisIndex: 2, data: zScatter, symbolSize: 12, progressive: 0,
      itemStyle: { color: DOT }, silent: true, z: 2, markLine: refLines() },
    { type: 'custom', xAxisIndex: 2, yAxisIndex: 2, data: zBars, encode: { x: 0, y: [1, 2] },
      renderItem: errorBars(BLUE, 4, 10, 6), silent: true, z: 8 },
    { type: 'line', xAxisIndex: 2, yAxisIndex: 2, data: zStars, symbol: STAR, symbolSize: [34, 32],
      lineStyle: { color: BLUE, width: 4.5 }, itemStyle: { color: BLUE, borderColor: BLUE, borderWidth: 2 },
      silent: true, z: 9 },
    { type: 'custom', xAxisIndex: 2, yAxisIndex: 2, data: [[refZ, refValue - refErr, refValue + refErr]],
      encode: { x: 0, y: [1, 2] }, renderItem: errorBars('#000', 4.5, 8.5, 3.5), silent: true, z: 8 },
    { type: 'scatter', xAxisIndex: 2, yAxisIndex: 2, data: [[refZ, refValue]], symbolSize: 12,
      itemStyle: { color: '#000' }, silent: true, z: 9 }
  ],
  graphic: [
    yTitle(46, 651),
    yTitle(46, 1834),
    txt('M', 581, 1028, 42, true),
    txt('\u2217', 627, 1040, 28, false),
    txt('/', 651, 1028, 42, false),
    txt('M', 671, 1028, 42, true),
    txt('\u2299', 714, 1041, 28, false),
    txt('z', 665, 2207, 44, true, 'center')
  ]
};

chart.setOption(option);
</script>
</body>
</html>
